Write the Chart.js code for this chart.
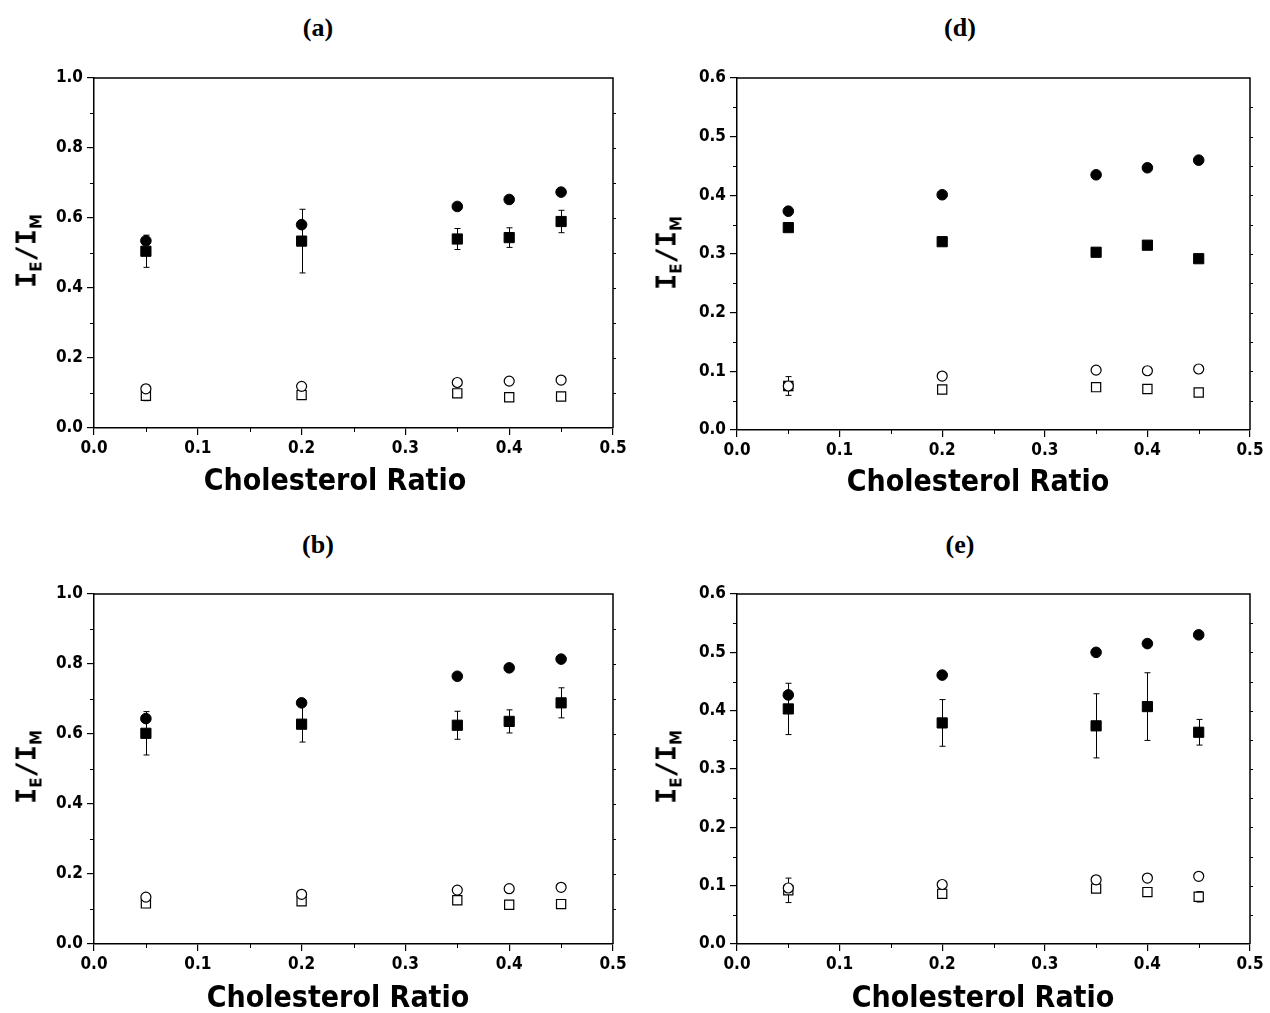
<!DOCTYPE html>
<html>
<head>
<meta charset="utf-8">
<script src="https://cdn.jsdelivr.net/npm/chart.js@4.4.1/dist/chart.umd.min.js"></script>
<style>
  html, body { margin: 0; padding: 0; background: #fff; overflow: hidden; }
  body { width: 1270px; height: 1013px; position: relative; }
  canvas { position: absolute; }
  .panel-label { position: absolute; transform: translate(-50%, -50%); font: bold 26px "Liberation Serif", "Times New Roman", serif; color: #000; }
  .xtitle { position: absolute; transform: translate(-50%, -50%); white-space: nowrap; font: bold 30px "DejaVu Sans Condensed", "DejaVu Sans", sans-serif; line-height: 1; color: #000; }
  .ytitle { position: absolute; transform: translate(-50%, -50%) rotate(-90deg); white-space: nowrap; font: bold 27px "DejaVu Sans Mono", monospace; line-height: 1; color: #000; }
  .ytitle sub { font: bold 15px "DejaVu Sans", sans-serif; vertical-align: -6px; }
</style>
</head>
<body>
<canvas id="chartA" width="640" height="450" style="left:0;top:60px"></canvas>
<canvas id="chartD" width="630" height="450" style="left:640px;top:60px"></canvas>
<canvas id="chartB" width="640" height="437" style="left:0;top:576px"></canvas>
<canvas id="chartE" width="630" height="437" style="left:640px;top:576px"></canvas>

<div class="panel-label" style="left:318px;top:28px">(a)</div>
<div class="panel-label" style="left:960px;top:28px">(d)</div>
<div class="panel-label" style="left:318px;top:545px">(b)</div>
<div class="panel-label" style="left:960px;top:545px">(e)</div>

<div class="xtitle" style="left:335px;top:480px">Cholesterol Ratio</div>
<div class="xtitle" style="left:978px;top:481px">Cholesterol Ratio</div>
<div class="xtitle" style="left:338px;top:997px">Cholesterol Ratio</div>
<div class="xtitle" style="left:983px;top:997px">Cholesterol Ratio</div>

<div class="ytitle" style="left:29px;top:251px">I<sub>E</sub>/I<sub>M</sub></div>
<div class="ytitle" style="left:669px;top:253px">I<sub>E</sub>/I<sub>M</sub></div>
<div class="ytitle" style="left:29px;top:767px">I<sub>E</sub>/I<sub>M</sub></div>
<div class="ytitle" style="left:669px;top:767px">I<sub>E</sub>/I<sub>M</sub></div>

<script>
// cholesterol ratios (x values, same for every panel)
const ratios = [0.05, 0.2, 0.35, 0.4, 0.45];
const xTickLabels = ['0.0', '0.1', '0.2', '0.3', '0.4', '0.5'];

// panel (a)
const aFilledCircle = [0.535, 0.581, 0.633, 0.653, 0.674];
const aFilledSquare = [0.505, 0.534, 0.540, 0.544, 0.590];
const aFilledSquareErr = [0.046, 0.091, 0.030, 0.028, 0.032];
const aOpenCircle = [0.112, 0.119, 0.130, 0.134, 0.137];
const aOpenSquare = [0.092, 0.094, 0.099, 0.088, 0.090];
const aOpenSquareErr = [0.014, 0.005, 0.004, 0.008, 0.004];

// panel (d)
const dFilledCircle = [0.373, 0.401, 0.435, 0.447, 0.460];
const dFilledSquare = [0.345, 0.321, 0.303, 0.315, 0.292];
const dFilledSquareErr = [0.004, 0.004, 0.004, 0.004, 0.004];
const dOpenCircle = [0.075, 0.092, 0.102, 0.101, 0.104];
const dOpenSquare = [0.075, 0.069, 0.073, 0.070, 0.064];
const dOpenSquareErr = [0.016, 0.005, 0.004, 0.003, 0.006];

// panel (b)
const bFilledCircle = [0.644, 0.689, 0.765, 0.789, 0.814];
const bFilledSquare = [0.602, 0.628, 0.625, 0.636, 0.689];
const bFilledSquareErr = [0.062, 0.051, 0.040, 0.033, 0.043];
const bOpenCircle = [0.134, 0.142, 0.154, 0.158, 0.162];
const bOpenSquare = [0.116, 0.122, 0.125, 0.112, 0.114];
const bOpenSquareErr = [0.012, 0.005, 0.004, 0.006, 0.005];

// panel (e)
const eFilledCircle = [0.427, 0.461, 0.500, 0.515, 0.530];
const eFilledSquare = [0.403, 0.379, 0.374, 0.407, 0.363];
const eFilledSquareErr = [0.044, 0.040, 0.055, 0.058, 0.022];
const eOpenCircle = [0.096, 0.102, 0.110, 0.113, 0.116];
const eOpenSquare = [0.092, 0.086, 0.095, 0.089, 0.081];
const eOpenSquareErr = [0.021, 0.005, 0.004, 0.003, 0.009];

Chart.defaults.font.family = '"DejaVu Sans Condensed", "DejaVu Sans", sans-serif';
Chart.defaults.font.weight = 'bold';
Chart.defaults.font.size = 17;
Chart.defaults.color = '#000';

const pts = vals => vals.map((v, i) => ({ x: ratios[i], y: v }));

// error bars, drawn under the markers
const errorBars = {
  id: 'errorBars',
  beforeDatasetsDraw(chart) {
    const { ctx, scales: { x, y } } = chart;
    ctx.save();
    ctx.strokeStyle = '#000';
    ctx.lineWidth = 1;
    chart.data.datasets.forEach(ds => {
      if (!ds.errors) return;
      ds.data.forEach((p, i) => {
        const e = ds.errors[i];
        const px = Math.round(x.getPixelForValue(p.x)) + 0.5;
        const hi = y.getPixelForValue(p.y + e);
        const lo = y.getPixelForValue(p.y - e);
        ctx.beginPath();
        ctx.moveTo(px, hi); ctx.lineTo(px, lo);
        ctx.moveTo(px - 3, hi); ctx.lineTo(px + 3, hi);
        ctx.moveTo(px - 3, lo); ctx.lineTo(px + 3, lo);
        ctx.stroke();
      });
    });
    ctx.restore();
  }
};

// top/right frame and minor ticks
const frameTicks = {
  id: 'frameTicks',
  afterDraw(chart, args, opts) {
    const { ctx, chartArea: a, scales: { x, y } } = chart;
    ctx.save();
    ctx.strokeStyle = '#000';
    ctx.lineWidth = 1.5;
    ctx.beginPath();
    ctx.moveTo(a.left, a.top);
    ctx.lineTo(a.right, a.top);
    ctx.lineTo(a.right, a.bottom);
    ctx.stroke();

    ctx.lineWidth = 1;
    ctx.beginPath();
    for (let i = 0; (2 * i + 1) * opts.xMinor < x.max; i++) {
      const px = Math.round(x.getPixelForValue((2 * i + 1) * opts.xMinor)) + 0.5;
      ctx.moveTo(px, a.bottom); ctx.lineTo(px, a.bottom + 4);
    }
    for (let i = 0; (2 * i + 1) * opts.yMinor < y.max; i++) {
      const py = Math.round(y.getPixelForValue((2 * i + 1) * opts.yMinor)) + 0.5;
      ctx.moveTo(a.left, py); ctx.lineTo(a.left - 4, py);
    }
    for (let i = 1; i * opts.yMinor < y.max - 1e-9; i++) {
      const py = Math.round(y.getPixelForValue(i * opts.yMinor)) + 0.5;
      ctx.moveTo(a.right, py); ctx.lineTo(a.right + 3, py);
    }
    ctx.stroke();
    ctx.restore();
  }
};

function makePanel(id, cfg) {
  new Chart(document.getElementById(id), {
    type: 'scatter',
    data: {
      datasets: [
        { data: pts(cfg.openCircle), pointStyle: 'circle', pointRadius: 5, backgroundColor: '#fff', borderColor: '#000', borderWidth: 1.2 },
        { data: pts(cfg.openSquare), errors: cfg.openSquareErr, pointStyle: 'rect', pointRadius: 6.5, backgroundColor: '#fff', borderColor: '#000', borderWidth: 1.2 },
        { data: pts(cfg.filledCircle), pointStyle: 'circle', pointRadius: 5.3, backgroundColor: '#000', borderColor: '#000', borderWidth: 1 },
        { data: pts(cfg.filledSquare), errors: cfg.filledSquareErr, pointStyle: 'rect', pointRadius: 7.2, backgroundColor: '#000', borderColor: '#000', borderWidth: 1 }
      ]
    },
    options: {
      responsive: false,
      animation: false,
      events: [],
      layout: { padding: { left: 0, top: 18, right: cfg.padRight, bottom: cfg.padBottom } },
      plugins: {
        legend: { display: false },
        tooltip: { enabled: false },
        frameTicks: { xMinor: 0.05, yMinor: cfg.yMinor }
      },
      scales: {
        x: {
          type: 'linear', min: 0, max: 0.5,
          afterFit: s => { s.height = 69; },
          border: { display: true, color: '#000', width: 1.5 },
          grid: { display: true, drawOnChartArea: false, drawTicks: true, tickLength: 7, color: '#000', lineWidth: 1.2 },
          ticks: { stepSize: 0.1, padding: 3, maxRotation: 0, autoSkip: false,
                   callback: (v, i) => xTickLabels[i] }
        },
        y: {
          type: 'linear', min: 0, max: cfg.yMax,
          afterFit: s => { s.width = cfg.yWidth; },
          border: { display: true, color: '#000', width: 1.5 },
          grid: { display: true, drawOnChartArea: false, drawTicks: true, tickLength: 7, color: '#000', lineWidth: 1.2 },
          ticks: { stepSize: cfg.yStep, padding: 4, callback: (v, i) => cfg.yTickLabels[i] }
        }
      }
    },
    plugins: [errorBars, frameTicks]
  });
}

const yLabels10 = ['0.0', '0.2', '0.4', '0.6', '0.8', '1.0'];
const yLabels06 = ['0.0', '0.1', '0.2', '0.3', '0.4', '0.5', '0.6'];

makePanel('chartA', {
  filledCircle: aFilledCircle, filledSquare: aFilledSquare, filledSquareErr: aFilledSquareErr,
  openCircle: aOpenCircle, openSquare: aOpenSquare, openSquareErr: aOpenSquareErr,
  yMax: 1.0, yStep: 0.2, yMinor: 0.1, yTickLabels: yLabels10,
  yWidth: 94, padRight: 27, padBottom: 13
});
makePanel('chartD', {
  filledCircle: dFilledCircle, filledSquare: dFilledSquare, filledSquareErr: dFilledSquareErr,
  openCircle: dOpenCircle, openSquare: dOpenSquare, openSquareErr: dOpenSquareErr,
  yMax: 0.6, yStep: 0.1, yMinor: 0.05, yTickLabels: yLabels06,
  yWidth: 97, padRight: 20, padBottom: 11
});
makePanel('chartB', {
  filledCircle: bFilledCircle, filledSquare: bFilledSquare, filledSquareErr: bFilledSquareErr,
  openCircle: bOpenCircle, openSquare: bOpenSquare, openSquareErr: bOpenSquareErr,
  yMax: 1.0, yStep: 0.2, yMinor: 0.1, yTickLabels: yLabels10,
  yWidth: 94, padRight: 27, padBottom: 0
});
makePanel('chartE', {
  filledCircle: eFilledCircle, filledSquare: eFilledSquare, filledSquareErr: eFilledSquareErr,
  openCircle: eOpenCircle, openSquare: eOpenSquare, openSquareErr: eOpenSquareErr,
  yMax: 0.6, yStep: 0.1, yMinor: 0.05, yTickLabels: yLabels06,
  yWidth: 97, padRight: 20, padBottom: 0
});
</script>
</body>
</html>
